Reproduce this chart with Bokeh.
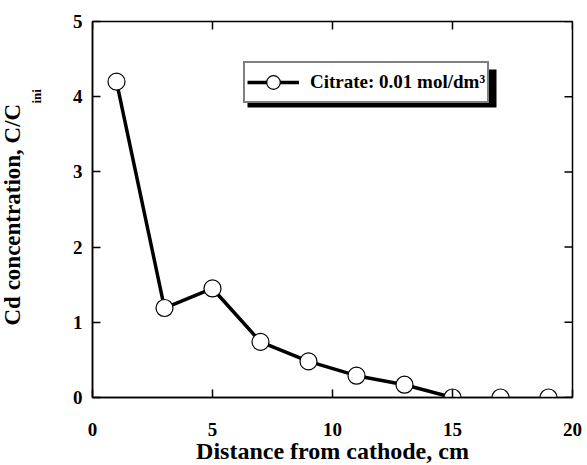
from bokeh.plotting import figure
from bokeh.models import (FixedTicker, Range1d, Label, Legend, LegendItem,
                          BoxAnnotation)
from bokeh.embed import file_html
from bokeh.resources import INLINE

# ---- data -------------------------------------------------------------
distance_cm = [1, 3, 5, 7, 9, 11, 13, 15, 17, 19]
cd_ratio = [4.20, 1.19, 1.45, 0.74, 0.48, 0.29, 0.17, 0.00, 0.00, 0.00]
x_ticks = [0, 5, 10, 15, 20]
y_ticks = [0, 1, 2, 3, 4, 5]
series_label = "Citrate: 0.01 mol/dm\u00b3"
x_title = "Distance from cathode, cm"
y_title_main = "Cd concentration, C/C"
y_title_sub = "ini"
thick_until = 15   # points up to this distance are joined by the heavy line

# ---- layout -----------------------------------------------------------
W, H = 587, 465
L, R, T, B = 92, 15, 21, 68
X0, X1, Y0, Y1 = 0, 20, 0, 5
fw, fh = W - L - R, H - T - B
TICK = 8
MAIN_PANEL_X = 61   # screen x origin of the first label slot in the left panel
SUB_PANEL_X = 35    # screen x origin of the second label slot


def px_x(px):
    return X0 + (px - L) / fw * (X1 - X0)


def px_y(py):
    return Y0 + ((H - B) - py) / fh * (Y1 - Y0)


FONT = "Liberation Serif"

p = figure(width=W, height=H, output_backend="svg", toolbar_location=None,
           x_range=Range1d(X0, X1), y_range=Range1d(Y0, Y1),
           min_border_left=L, min_border_right=R, min_border_top=T,
           min_border_bottom=B)
p.outline_line_color = "black"
p.outline_line_width = 1.5
p.xgrid.visible = False
p.ygrid.visible = False
p.background_fill_color = "white"
p.border_fill_color = "white"


def style_axis(ax, ticks, standoff):
    ax.ticker = FixedTicker(ticks=ticks)
    ax.axis_line_width = 1.5
    ax.axis_line_color = "black"
    ax.major_tick_in = TICK
    ax.major_tick_out = 0
    ax.major_tick_line_width = 1.5
    ax.major_tick_line_color = "black"
    ax.minor_tick_line_color = None
    ax.major_label_text_font = FONT
    ax.major_label_text_font_style = "bold"
    ax.major_label_text_color = "black"
    ax.major_label_text_font_size = "19px"
    ax.major_label_standoff = standoff


style_axis(p.below[0], x_ticks, 25)
style_axis(p.left[0], y_ticks, 10)

# inward ticks on the top and right frame edges
dy = TICK / fh * (Y1 - Y0)
dx = TICK / fw * (X1 - X0)
p.segment(x0=x_ticks, x1=x_ticks, y0=[Y1] * len(x_ticks),
          y1=[Y1 - dy] * len(x_ticks), line_color="black", line_width=1.5)
p.segment(x0=[X1] * len(y_ticks), x1=[X1 - dx] * len(y_ticks),
          y0=y_ticks, y1=y_ticks, line_color="black", line_width=1.5)

# ---- series -----------------------------------------------------------
x_heavy = [x for x in distance_cm if x <= thick_until]
y_heavy = [y for x, y in zip(distance_cm, cd_ratio) if x <= thick_until]
x_light = [x for x in distance_cm if x >= thick_until]
y_light = [y for x, y in zip(distance_cm, cd_ratio) if x >= thick_until]

r_heavy = p.line(x_heavy, y_heavy, line_width=3.5, line_color="black")
p.line(x_light, y_light, line_width=1.2, line_color="black")
r_pts = p.scatter(distance_cm, cd_ratio, marker="circle", size=17,
                  fill_color="white", line_color="black", line_width=1.2)

# ---- legend with drop shadow -----------------------------------------
leg_left, leg_top, leg_w, leg_h = 243, 65, 249, 38
shadow = BoxAnnotation(left=px_x(leg_left + 4), right=px_x(leg_left + leg_w + 4),
                       top=px_y(leg_top + 4), bottom=px_y(leg_top + leg_h + 4),
                       fill_color="black", fill_alpha=1.0, line_color=None)
p.add_layout(shadow)

legend = Legend(items=[LegendItem(label=series_label, renderers=[r_heavy, r_pts])],
                location=(leg_left - L, (H - B) - (leg_top + leg_h)),
                orientation="vertical", margin=0, padding=2, spacing=0,
                glyph_width=52, glyph_height=34, label_standoff=11,
                label_text_font=FONT, label_text_font_style="bold",
                label_text_font_size="19px", label_text_color="black",
                border_line_color="black", border_line_width=2,
                background_fill_color="white", background_fill_alpha=1.0)
p.add_layout(legend)

# ---- axis titles (placed in the side panels, screen units) -------------
p.add_layout(Label(x=fw / 2, y=14, x_units="screen", y_units="screen",
                   text=x_title, text_align="center",
                   text_baseline="alphabetic", text_font=FONT,
                   text_font_style="bold", text_font_size="24px",
                   text_color="black"), "below")
p.add_layout(Label(x=28.5 - MAIN_PANEL_X, y=(H - B) - 325,
                   x_units="screen", y_units="screen",
                   text=y_title_main, angle=90, angle_units="deg",
                   text_align="left", text_baseline="alphabetic",
                   text_font=FONT, text_font_style="bold",
                   text_font_size="23px", text_color="black"), "left")
p.add_layout(Label(x=42 - SUB_PANEL_X, y=(H - B) - 103,
                   x_units="screen", y_units="screen",
                   text=y_title_sub, angle=90, angle_units="deg",
                   text_align="left", text_baseline="alphabetic",
                   text_font=FONT, text_font_style="bold",
                   text_font_size="13px", text_color="black"), "left")

open("out.html", "w").write(file_html(p, INLINE))
